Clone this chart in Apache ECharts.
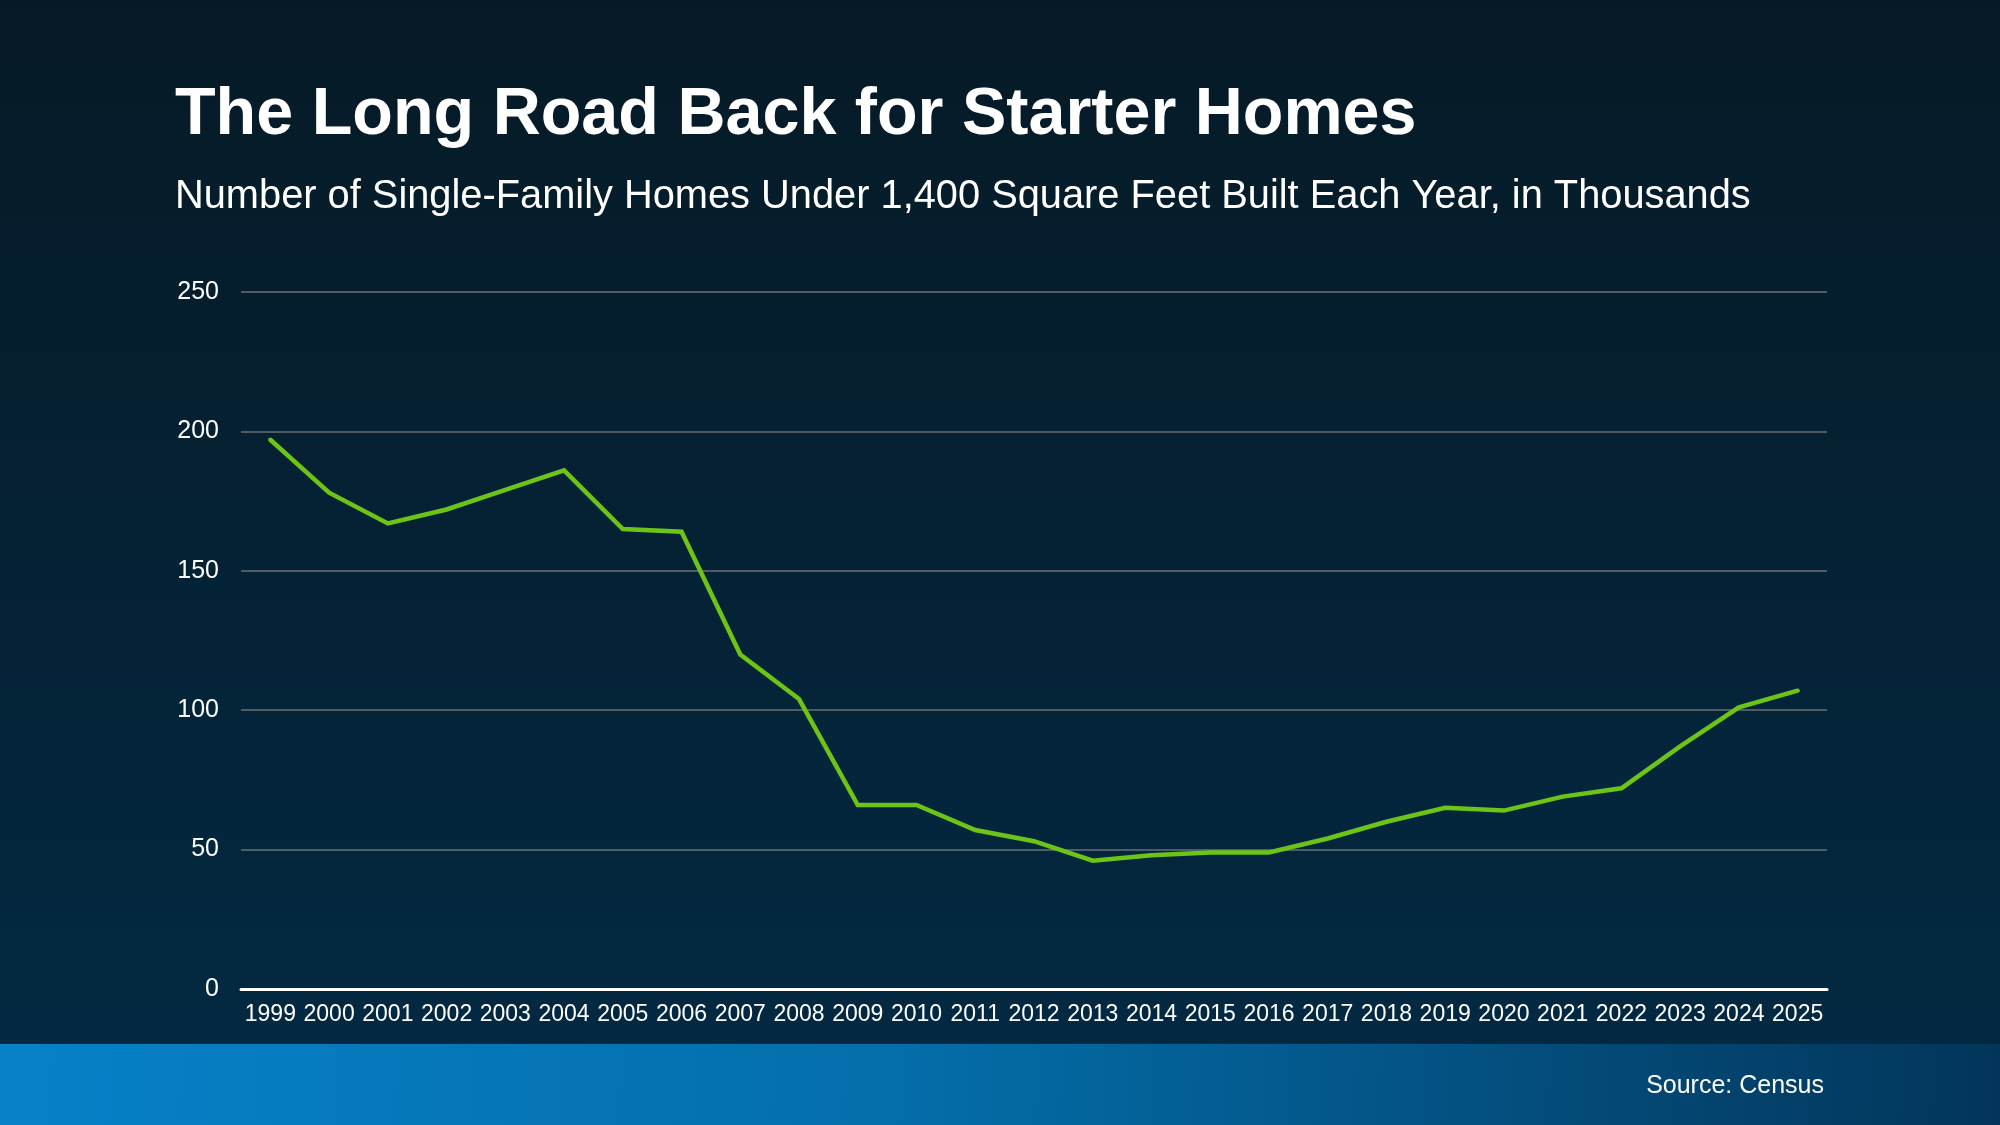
<!DOCTYPE html>
<html>
<head>
<meta charset="utf-8">
<script src="https://cdn.jsdelivr.net/npm/echarts@6/dist/echarts.min.js"></script>
<style>
html,body{margin:0;padding:0;width:2000px;height:1125px;overflow:hidden;background:#061a26;}
#c{width:2000px;height:1125px;}
</style>
</head>
<body>
<div id="c"></div>
<script>
const titleText = "The Long Road Back for Starter Homes";
const subtitleText = "Number of Single-Family Homes Under 1,400 Square Feet Built Each Year, in Thousands";
const sourceText = "Source: Census";
const years = ["1999","2000","2001","2002","2003","2004","2005","2006","2007","2008","2009","2010","2011","2012","2013","2014","2015","2016","2017","2018","2019","2020","2021","2022","2023","2024","2025"];
const homes = [197,178,167,172,179,186,165,164,120,104,66,66,57,53,46,48,49,49,54,60,65,64,69,72,87,101,107];
const yTicks = {min:0, max:250, interval:50};

const FONT = '"Liberation Sans", Arial, sans-serif';
const chart = echarts.init(document.getElementById('c'), null, {renderer:'canvas'});
chart.setOption({
  animation:false,
  backgroundColor:{type:'linear',x:0,y:0,x2:0,y2:1,colorStops:[{offset:0,color:'#061a26'},{offset:1,color:'#032a44'}]},
  graphic:[
    {type:'rect',left:0,top:1044,shape:{width:2000,height:81},z:-1,
      style:{fill:{type:'linear',x:0,y:0,x2:1,y2:1,colorStops:[{offset:0,color:'#0781c9'},{offset:0.45,color:'#046eaa'},{offset:1,color:'#03355a'}]}}},
    {type:'text',left:175,top:82,style:{text:titleText,fill:'#ffffff',font:'bold 66.5px '+FONT}},
    {type:'text',left:175,top:177,style:{text:subtitleText,fill:'#ffffff',font:'39.8px '+FONT}},
    {type:'text',right:176,top:1074,style:{text:sourceText,fill:'#ffffff',font:'25px '+FONT}}
  ],
  grid:{left:241,right:173,top:292,bottom:136,containLabel:false},
  xAxis:{
    type:'category',data:years,boundaryGap:true,
    axisLine:{show:true,lineStyle:{color:'#ffffff',width:3}},
    axisTick:{show:false},
    axisLabel:{color:'#ffffff',fontFamily:FONT,fontSize:23,margin:14,interval:0}
  },
  yAxis:{
    type:'value',min:yTicks.min,max:yTicks.max,interval:yTicks.interval,
    axisLine:{show:false},axisTick:{show:false},
    splitLine:{lineStyle:{color:'#6b6f72',width:1.5}},
    axisLabel:{color:'#ffffff',fontFamily:FONT,fontSize:25,margin:22}
  },
  series:[{
    type:'line',data:homes,symbol:'none',
    lineStyle:{color:'#6cc417',width:4.5,cap:'round',join:'miter'},
    itemStyle:{color:'#6cc417'}
  }]
});
</script>
</body>
</html>
